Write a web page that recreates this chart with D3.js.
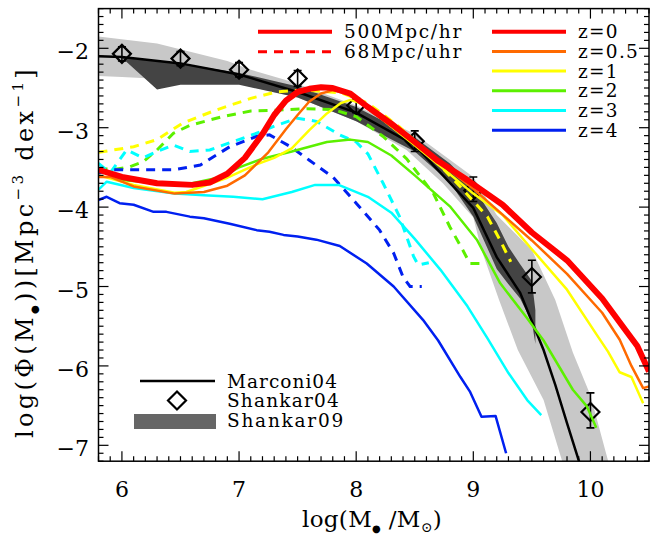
<!DOCTYPE html>
<html>
<head>
<meta charset="utf-8">
<script src="https://cdn.jsdelivr.net/npm/d3@7"></script>
<style>
  body { margin: 0; background: #fff; }
  text { font-family: "DejaVu Serif", serif; fill: #000; }
</style>
</head>
<body>
<div id="chart"></div>
<script>
// ---- data (log M_bh, log Phi) ----
const marconi04 = [[5.8,-2.10],[6.0,-2.11],[6.5,-2.19],[7.0,-2.33],[7.5,-2.55],[8.0,-2.81],[8.5,-3.22],
  [9.0,-4.01],[9.2,-4.63],[9.4,-5.08],[9.6,-5.80],[9.7,-6.24],[9.8,-6.72],[9.9,-7.19],[9.95,-7.45]];

const marconiBandHi = [[5.8,-1.85],[6.3,-1.94],[6.9,-2.16],[7.1,-2.27],[7.45,-2.42],[8.0,-2.72],[8.5,-3.08],
  [9.0,-3.62],[9.2,-4.10],[9.5,-4.54],[9.7,-5.17],[9.85,-5.83],[10.0,-6.37],[10.15,-7.19],[10.2,-7.4]];
const marconiBandLo = [[5.8,-2.35],[6.0,-2.36],[6.5,-2.40],[7.0,-2.45],[7.5,-2.62],[8.0,-2.92],[8.43,-3.28],
  [8.74,-3.70],[9.0,-4.13],[9.07,-4.54],[9.22,-5.17],[9.38,-5.80],[9.6,-6.43],[9.8,-7.4]];

const shankar09Hi = [[6.0,-2.12],[6.5,-2.19],[7.0,-2.31],[7.5,-2.48],[8.0,-2.74],[8.5,-3.12],[8.8,-3.45],
  [9.0,-3.75],[9.2,-4.2],[9.3,-4.5],[9.4,-4.72],[9.5,-4.93],[9.53,-5.3]];
const shankar09Lo = [[6.0,-2.12],[6.3,-2.52],[6.5,-2.46],[7.0,-2.46],[7.5,-2.62],[8.0,-2.92],[8.5,-3.30],
  [8.8,-3.69],[9.0,-4.12],[9.2,-4.78],[9.3,-4.97],[9.4,-5.15],[9.5,-5.45],[9.53,-5.72]];

const shankar04X  = [6, 6.5, 7, 7.5, 8, 8.5, 9, 9.5, 10];
const shankar04Y  = [-2.07,-2.13,-2.27,-2.38,-2.72,-3.17,-3.79,-4.88,-6.58];
const shankar04Hi = [-1.98,-2.04,-2.18,-2.28,-2.63,-3.04,-3.62,-4.67,-6.34];
const shankar04Lo = [-2.16,-2.22,-2.36,-2.48,-2.81,-3.30,-3.93,-5.08,-6.78];

// 500Mpc/hr runs (solid)
const z0Hr = [[5.8,-3.53],[6.0,-3.62],[6.3,-3.70],[6.6,-3.72],[6.75,-3.69],[6.9,-3.58],[7.05,-3.38],[7.2,-3.08],
  [7.3,-2.84],[7.4,-2.66],[7.5,-2.55],[7.6,-2.51],[7.7,-2.49],[7.8,-2.50],[7.95,-2.57],[8.1,-2.74],[8.3,-2.95],
  [8.5,-3.18],[8.7,-3.42],[8.95,-3.66],[9.25,-3.97],[9.5,-4.32],[9.8,-4.67],[10.1,-5.15],[10.3,-5.55],[10.4,-5.75],[10.5,-6.07]];
const z05Hr = [[5.8,-3.62],[5.9,-3.62],[6.1,-3.74],[6.45,-3.83],[6.7,-3.81],[6.9,-3.73],[7.05,-3.6],[7.25,-3.31],
  [7.4,-3.02],[7.5,-2.84],[7.6,-2.67],[7.7,-2.57],[7.8,-2.53],[7.95,-2.58],[8.1,-2.76],[8.5,-3.19],[9.0,-3.77],
  [9.5,-4.42],[9.8,-4.84],[10.1,-5.33],[10.25,-5.67],[10.35,-6.0],[10.45,-6.28],[10.5,-6.26]];
const z1Hr = [[5.8,-3.60],[6.1,-3.72],[6.45,-3.82],[6.55,-3.81],[6.9,-3.63],[7.15,-3.46],[7.3,-3.38],[7.45,-3.26],
  [7.6,-3.03],[7.75,-2.82],[7.87,-2.69],[7.95,-2.65],[8.05,-2.7],[8.2,-2.87],[8.5,-3.22],[9.0,-3.83],[9.25,-4.1],
  [9.5,-4.53],[9.8,-5.04],[10.05,-5.6],[10.15,-5.82],[10.25,-6.08],[10.35,-6.14],[10.45,-6.47]];
const z2Hr = [[5.8,-3.51],[6.0,-3.66],[6.3,-3.70],[6.6,-3.70],[6.85,-3.62],[7.0,-3.50],[7.2,-3.39],[7.45,-3.30],
  [7.6,-3.24],[7.75,-3.18],[7.95,-3.15],[8.1,-3.18],[8.3,-3.35],[8.5,-3.6],[8.8,-3.99],[9.03,-4.41],[9.23,-4.96],
  [9.45,-5.38],[9.6,-5.68],[9.85,-6.30],[9.97,-6.51],[10.05,-6.78]];
const z3Hr = [[5.8,-3.78],[5.87,-3.68],[6.1,-3.76],[6.45,-3.83],[6.7,-3.85],[6.95,-3.87],[7.2,-3.90],[7.45,-3.81],
  [7.65,-3.72],[7.85,-3.72],[8.1,-3.87],[8.3,-4.07],[8.5,-4.4],[8.72,-4.79],[8.95,-5.25],[9.12,-5.65],[9.3,-6.09],
  [9.46,-6.43],[9.58,-6.62]];
const z4Hr = [[5.8,-3.91],[5.87,-3.87],[5.98,-3.95],[6.1,-3.97],[6.27,-4.06],[6.38,-4.06],[6.58,-4.12],[6.7,-4.14],
  [6.92,-4.21],[7.15,-4.29],[7.26,-4.31],[7.38,-4.35],[7.5,-4.37],[7.66,-4.41],[7.86,-4.49],[8.09,-4.71],[8.32,-5.0],
  [8.57,-5.42],[8.7,-5.68],[8.89,-6.14],[8.97,-6.32],[9.07,-6.64],[9.19,-6.63],[9.28,-7.10]];

// 68Mpc/uhr runs (dashed)
const z1Uhr = [[5.8,-3.31],[6.1,-3.24],[6.3,-3.15],[6.52,-2.94],[6.8,-2.78],[7.1,-2.63],[7.32,-2.55],[7.5,-2.53],
  [7.6,-2.53],[7.87,-2.56],[8.1,-2.69],[8.37,-2.99],[8.6,-3.3],[8.9,-3.76],[9.12,-4.12],[9.23,-4.42],[9.32,-4.69]];
const z2Uhr = [[5.8,-3.52],[5.96,-3.52],[6.07,-3.49],[6.18,-3.43],[6.3,-3.28],[6.44,-3.07],[6.58,-2.97],[6.86,-2.86],
  [7.1,-2.79],[7.32,-2.78],[7.58,-2.76],[7.8,-2.77],[8.0,-2.86],[8.23,-3.11],[8.43,-3.39],[8.66,-3.83],[8.8,-4.25],
  [8.91,-4.54],[8.97,-4.71],[9.07,-4.71]];
const z3Uhr = [[5.8,-3.45],[5.9,-3.57],[6.04,-3.28],[6.18,-3.38],[6.3,-3.3],[6.44,-3.22],[6.58,-3.30],[6.75,-3.28],
  [6.92,-3.19],[7.15,-3.07],[7.32,-2.97],[7.5,-2.88],[7.66,-2.92],[7.86,-3.09],[8.0,-3.18],[8.1,-3.33],[8.23,-3.70],
  [8.37,-4.12],[8.43,-4.37],[8.49,-4.62],[8.53,-4.73],[8.62,-4.70]];
const z4Uhr = [[5.8,-3.57],[5.92,-3.53],[6.15,-3.53],[6.44,-3.53],[6.67,-3.47],[6.92,-3.24],[7.15,-3.11],[7.26,-3.09],
  [7.44,-3.24],[7.6,-3.41],[7.8,-3.62],[8.0,-3.95],[8.2,-4.29],[8.32,-4.58],[8.4,-4.88],[8.46,-5.0],[8.56,-5.0]];

const redshifts = ['z=0', 'z=0.5', 'z=1', 'z=2', 'z=3', 'z=4'];
const zColors   = ['#ff0000', '#ff6a00', '#ffff00', '#5cf000', '#00ffff', '#0020f0'];
const hrRuns    = [z0Hr, z05Hr, z1Hr, z2Hr, z3Hr, z4Hr];
const uhrRuns   = [null, null, z1Uhr, z2Uhr, z3Uhr, z4Uhr];

const xTicks = [6, 7, 8, 9, 10];
const yTicks = [-7, -6, -5, -4, -3, -2];

// ---- layout ----
const width = 651, height = 538;
const pl = 98.5, pr = 649, pt = 8.6, pb = 461.2;

const x = d3.scaleLinear().domain([5.8, 10.5]).range([pl, pr]);
const y = d3.scaleLinear().domain([-7.2, -1.5]).range([pb, pt]);

const svg = d3.select('#chart').append('svg')
    .attr('width', width)
    .attr('height', height);

svg.append('clipPath').attr('id', 'clip')
  .append('rect')
    .attr('x', pl).attr('y', pt)
    .attr('width', pr - pl).attr('height', pb - pt);

const plot = svg.append('g').attr('clip-path', 'url(#clip)');
const line = d3.line().x(d => x(d[0])).y(d => y(d[1]));
const band = (hi, lo) => line(hi.concat(lo.slice().reverse())) + 'Z';

// bands
plot.append('path').attr('d', band(marconiBandHi, marconiBandLo)).attr('fill', '#c8c8c8');
plot.append('path').attr('d', band(shankar09Hi, shankar09Lo)).attr('fill', '#444444');

// Marconi04
plot.append('path').attr('d', line(marconi04))
    .attr('fill', 'none').attr('stroke', '#000').attr('stroke-width', 2.5);

// Shankar04 diamonds + error bars
const diamond = 'M0,-9L9,0L0,9L-9,0Z';
const pts = plot.append('g').selectAll('g')
    .data(shankar04X.map((v, i) => ({ x: v, y: shankar04Y[i], hi: shankar04Hi[i], lo: shankar04Lo[i] })))
  .enter().append('g')
    .attr('fill', 'none').attr('stroke', '#000').attr('stroke-width', 1.6);
pts.append('line')
    .attr('x1', d => x(d.x)).attr('x2', d => x(d.x))
    .attr('y1', d => y(d.hi)).attr('y2', d => y(d.lo));
pts.append('line')
    .attr('x1', d => x(d.x) - 4).attr('x2', d => x(d.x) + 4)
    .attr('y1', d => y(d.hi)).attr('y2', d => y(d.hi));
pts.append('line')
    .attr('x1', d => x(d.x) - 4).attr('x2', d => x(d.x) + 4)
    .attr('y1', d => y(d.lo)).attr('y2', d => y(d.lo));
pts.append('path')
    .attr('d', diamond)
    .attr('stroke-width', 2.2)
    .attr('transform', d => `translate(${x(d.x)},${y(d.y)})`);

// dashed (uhr) runs
uhrRuns.forEach((run, i) => {
  if (!run) return;
  plot.append('path').attr('d', line(run))
      .attr('fill', 'none').attr('stroke', zColors[i])
      .attr('stroke-width', 3).attr('stroke-dasharray', '9,7');
});

// solid (hr) runs, z=0 drawn last and thick
[5, 4, 3, 2, 1, 0].forEach(i => {
  plot.append('path').attr('d', line(hrRuns[i]))
      .attr('fill', 'none').attr('stroke', zColors[i])
      .attr('stroke-width', i === 0 ? 6 : 2.5)
      .attr('stroke-linejoin', 'round');
});

// ---- frame & ticks ----
const axes = svg.append('g').attr('stroke', '#000');
axes.append('rect')
    .attr('x', pl).attr('y', pt)
    .attr('width', pr - pl).attr('height', pb - pt)
    .attr('fill', 'none').attr('stroke-width', 1.5);

const xMinor = d3.range(58, 106).map(v => v / 10);
const yMinor = d3.range(-72, -14).map(v => v / 10);
const isMajor = v => Math.abs(v - Math.round(v)) < 1e-6;

xMinor.forEach(v => {
  const len = isMajor(v) ? 10 : 5, px = x(v);
  axes.append('line').attr('x1', px).attr('x2', px).attr('y1', pb).attr('y2', pb - len).attr('stroke-width', 1.2);
  axes.append('line').attr('x1', px).attr('x2', px).attr('y1', pt).attr('y2', pt + len).attr('stroke-width', 1.2);
});
yMinor.forEach(v => {
  const len = isMajor(v) ? 10 : 5, py = y(v);
  axes.append('line').attr('x1', pl).attr('x2', pl + len).attr('y1', py).attr('y2', py).attr('stroke-width', 1.2);
  axes.append('line').attr('x1', pr).attr('x2', pr - len).attr('y1', py).attr('y2', py).attr('stroke-width', 1.2);
});

svg.append('g').selectAll('text')
    .data(xTicks)
  .enter().append('text')
    .attr('x', d => x(d)).attr('y', pb + 36)
    .attr('text-anchor', 'middle')
    .attr('font-size', 22)
    .text(d => d);

svg.append('g').selectAll('text')
    .data(yTicks)
  .enter().append('text')
    .attr('x', 89).attr('y', d => y(d) + 11)
    .attr('text-anchor', 'end')
    .attr('font-size', 22)
    .text(d => '\u2212' + Math.abs(d));

// fit a text element to a target width by letter spacing
function fit(sel, target) {
  const n = sel.text().length;
  const w = sel.node().getComputedTextLength();
  sel.attr('letter-spacing', ((target - w) / n).toFixed(2));
}

// axis titles
const xt = svg.append('text')
    .attr('x', 372).attr('y', 527)
    .attr('text-anchor', 'middle')
    .attr('font-size', 23);
xt.append('tspan').text('log(M');
xt.append('tspan').attr('font-size', 10).attr('dy', 5).text('\u25CF');
xt.append('tspan').attr('dy', -5).text(' /M');
xt.append('tspan').attr('font-size', 14).attr('dy', 5).text('\u2299');
xt.append('tspan').attr('dy', -5).text(')');
fit(xt, 140);

const yt = svg.append('text')
    .attr('transform', 'translate(33,252) rotate(-90)')
    .attr('text-anchor', 'middle')
    .attr('font-size', 24);
yt.append('tspan').text('log(\u03A6(M');
yt.append('tspan').attr('font-size', 10).attr('dy', 5).text('\u25CF');
yt.append('tspan').attr('dy', -5).text('))[Mpc');
yt.append('tspan').attr('font-size', 15).attr('dy', -10).text('\u22123');
yt.append('tspan').attr('dy', 10).text(' dex');
yt.append('tspan').attr('font-size', 15).attr('dy', -10).text('\u22121');
yt.append('tspan').attr('dy', 10).text(']');
fit(yt, 372);

// ---- legends ----
const leg = svg.append('g');
const resRows = [
  { label: '500Mpc/hr', dash: null, w: 4 },
  { label: '68Mpc/uhr', dash: '9,7', w: 3 }
];
resRows.forEach((r, i) => {
  const py = 31.7 + i * 20;
  leg.append('line').attr('x1', 258).attr('x2', 332).attr('y1', py).attr('y2', py)
      .attr('stroke', '#ff0000').attr('stroke-width', r.w)
      .attr('stroke-dasharray', r.dash);
  const t = leg.append('text').attr('x', 344).attr('y', py + 6.5).attr('font-size', 18.5).text(r.label);
  fit(t, 119);
});

redshifts.forEach((z, i) => {
  const py = 31.7 + i * 19.7;
  leg.append('line').attr('x1', 492).attr('x2', 566).attr('y1', py).attr('y2', py)
      .attr('stroke', zColors[i]).attr('stroke-width', i === 0 ? 4 : 3);
  leg.append('text').attr('x', 578).attr('y', py + 6.5).attr('font-size', 18.5)
      .attr('letter-spacing', 1.3).text(z);
});

leg.append('line').attr('x1', 140).attr('x2', 215).attr('y1', 381).attr('y2', 381)
    .attr('stroke', '#000').attr('stroke-width', 2.5);
leg.append('path').attr('d', diamond).attr('fill', 'none').attr('stroke', '#000').attr('stroke-width', 2.2)
    .attr('transform', 'translate(177,400.5)');
leg.append('rect').attr('x', 134).attr('y', 414).attr('width', 82).attr('height', 15).attr('fill', '#666666');
[['Marconi04', 387.5, 111], ['Shankar04', 406.5, 113], ['Shankar09', 426.5, 118]].forEach(([label, py, w]) => {
  const t = leg.append('text').attr('x', 227).attr('y', py).attr('font-size', 18.5).text(label);
  fit(t, w);
});
</script>
</body>
</html>
